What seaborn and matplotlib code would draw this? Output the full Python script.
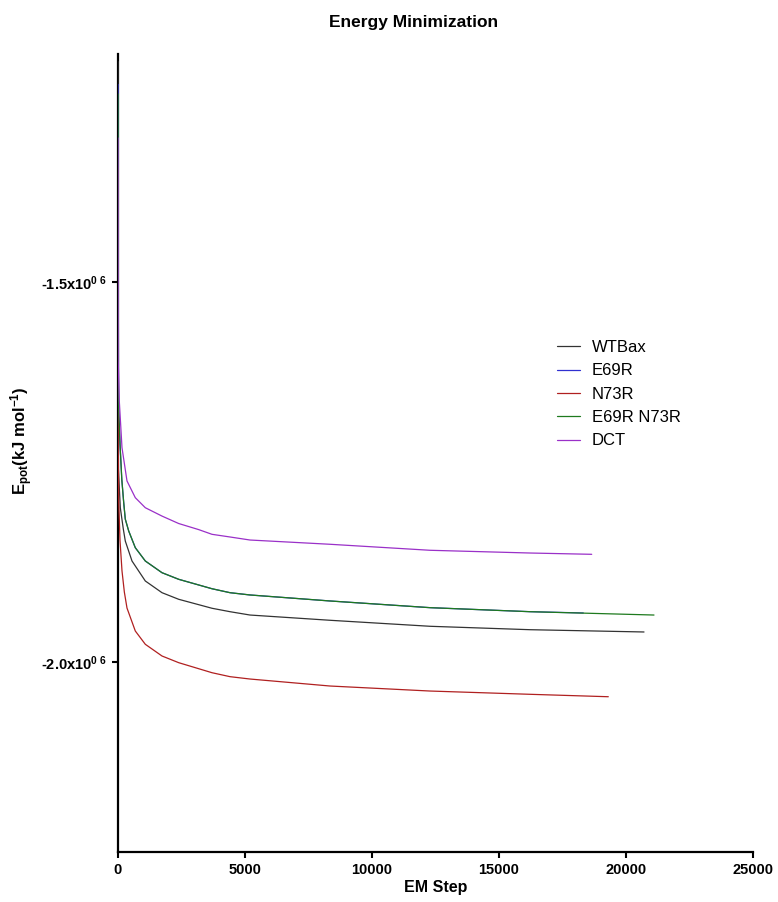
import matplotlib
matplotlib.use("Agg")
import matplotlib.pyplot as plt
import pandas as pd
import seaborn as sns
from matplotlib.ticker import FixedLocator, FixedFormatter

# EM step / potential energy (kJ/mol)
wtbax_step = [0, 12, 91, 209, 287, 551, 1075, 1732, 2390, 3701, 4409, 5197, 8346, 12283, 16220, 20709]
wtbax_epot = [-1.21e6, -1.7447e6, -1.7970e6, -1.8250e6, -1.8408e6, -1.8671e6, -1.8934e6, -1.9088e6,
              -1.9175e6, -1.9293e6, -1.9338e6, -1.9382e6, -1.9451e6, -1.9530e6, -1.9575e6, -1.9605e6]

e69r_step = [0, 20, 79, 150, 224, 287, 421, 681, 1075, 1732, 2390, 3701, 4409, 5197, 8346, 12283, 16220, 18319]
e69r_epot = [-1.24e6, -1.6600e6, -1.7132e6, -1.7600e6, -1.7900e6, -1.8120e6, -1.8276e6, -1.8496e6, -1.8671e6,
             -1.8825e6, -1.8912e6, -1.9036e6, -1.9088e6, -1.9118e6, -1.9197e6, -1.9285e6, -1.9338e6, -1.9355e6]

n73r_step = [0, 5, 28, 79, 157, 250, 354, 681, 1075, 1732, 2390, 3701, 4409, 5197, 8346, 12283, 16220, 19303]
n73r_epot = [-1.35e6, -1.7000e6, -1.7882e6, -1.8400e6, -1.8800e6, -1.9080e6, -1.9290e6, -1.9592e6, -1.9767e6,
             -1.9921e6, -2.0009e6, -2.0141e6, -2.0193e6, -2.0224e6, -2.0316e6, -2.0382e6, -2.0425e6, -2.0457e6]

dbl_step = [0, 20, 79, 150, 224, 287, 421, 681, 1075, 1732, 2390, 3701, 4409, 5197, 8346, 12283, 16220, 21102]
dbl_epot = [-1.2526e6, -1.6600e6, -1.7132e6, -1.7600e6, -1.7900e6, -1.8120e6, -1.8276e6, -1.8496e6, -1.8671e6,
            -1.8825e6, -1.8912e6, -1.9036e6, -1.9088e6, -1.9118e6, -1.9197e6, -1.9285e6, -1.9338e6, -1.9382e6]

dct_step = [0, 8, 51, 157, 354, 681, 1075, 1732, 2390, 3177, 3701, 4409, 5197, 8346, 12283, 16220, 18650]
dct_epot = [-1.3105e6, -1.6039e6, -1.6566e6, -1.7180e6, -1.7618e6, -1.7838e6, -1.7970e6, -1.8080e6, -1.8178e6,
            -1.8258e6, -1.8320e6, -1.8355e6, -1.8395e6, -1.8451e6, -1.8530e6, -1.8566e6, -1.8583e6]

series_names = ["WTBax", "E69R", "N73R", "E69R N73R", "DCT"]
series_colors = ["#333333", "#3030d0", "#b02020", "#1e7a1e", "#9a30c8"]

x_ticks = [0, 5000, 10000, 15000, 20000, 25000]
y_ticks = [-2.0e6, -1.5e6]
y_tick_labels = ["-2.0x10$^{\\mathbf{0\\ 6}}$", "-1.5x10$^{\\mathbf{0\\ 6}}$"]

sns.set_style("ticks")
plt.rcParams["font.family"] = ["Liberation Sans", "DejaVu Sans"]
plt.rcParams["mathtext.fontset"] = "custom"
plt.rcParams["mathtext.rm"] = "Liberation Sans"
plt.rcParams["mathtext.bf"] = "Liberation Sans:bold"
plt.rcParams["mathtext.it"] = "Liberation Sans:italic"
for key in ["text.color", "axes.labelcolor", "xtick.color", "ytick.color"]:
    plt.rcParams[key] = "black"

fig = plt.figure(figsize=(7.78, 9.02), dpi=100)
ax = fig.add_axes([118 / 778, 50 / 902, 635 / 778, 798 / 902])

data = [
    (wtbax_step, wtbax_epot),
    (e69r_step, e69r_epot),
    (n73r_step, n73r_epot),
    (dbl_step, dbl_epot),
    (dct_step, dct_epot),
]
for (steps, epot), name, color in zip(data, series_names, series_colors):
    df = pd.DataFrame({"step": steps, "epot": epot})
    sns.lineplot(data=df, x="step", y="epot", color=color, label=name, ax=ax,
                 linewidth=0.9, estimator=None, sort=False, zorder=3)

ax.set_xlim(0, 25000)
ax.set_ylim(-2.25e6, -1.2e6)
ax.xaxis.set_major_locator(FixedLocator(x_ticks))
ax.yaxis.set_major_locator(FixedLocator(y_ticks))
ax.yaxis.set_major_formatter(FixedFormatter(y_tick_labels))
ax.tick_params(axis="both", direction="out", length=4.5, width=1.5, labelsize=10.5)
for lbl in ax.get_xticklabels() + ax.get_yticklabels():
    lbl.set_fontweight("bold")

for side in ["top", "right"]:
    ax.spines[side].set_visible(False)
for side in ["left", "bottom"]:
    ax.spines[side].set_linewidth(1.6)
    ax.spines[side].set_color("black")
    ax.spines[side].set_zorder(2)

ax.set_xlabel("EM Step", fontsize=11.5, fontweight="bold", labelpad=2)
ax.set_ylabel("")
fig.text(22 / 778, 1 - 441 / 902, r"$\mathbf{E_{pot}(kJ\ mol^{-1})}$",
         rotation=90, ha="center", va="center", fontsize=12)
fig.text(414 / 778, 1 - 22 / 902, "Energy Minimization", ha="center", va="center",
         fontsize=12.5, fontweight="bold")

ax.legend(loc="upper left", bbox_to_anchor=(557 / 778, 1 - 340 / 902),
          bbox_transform=fig.transFigure, frameon=False, fontsize=12,
          handlelength=1.4, handletextpad=0.7, labelspacing=0.5,
          borderpad=0, borderaxespad=0)

fig.savefig("out.png", dpi=100)
